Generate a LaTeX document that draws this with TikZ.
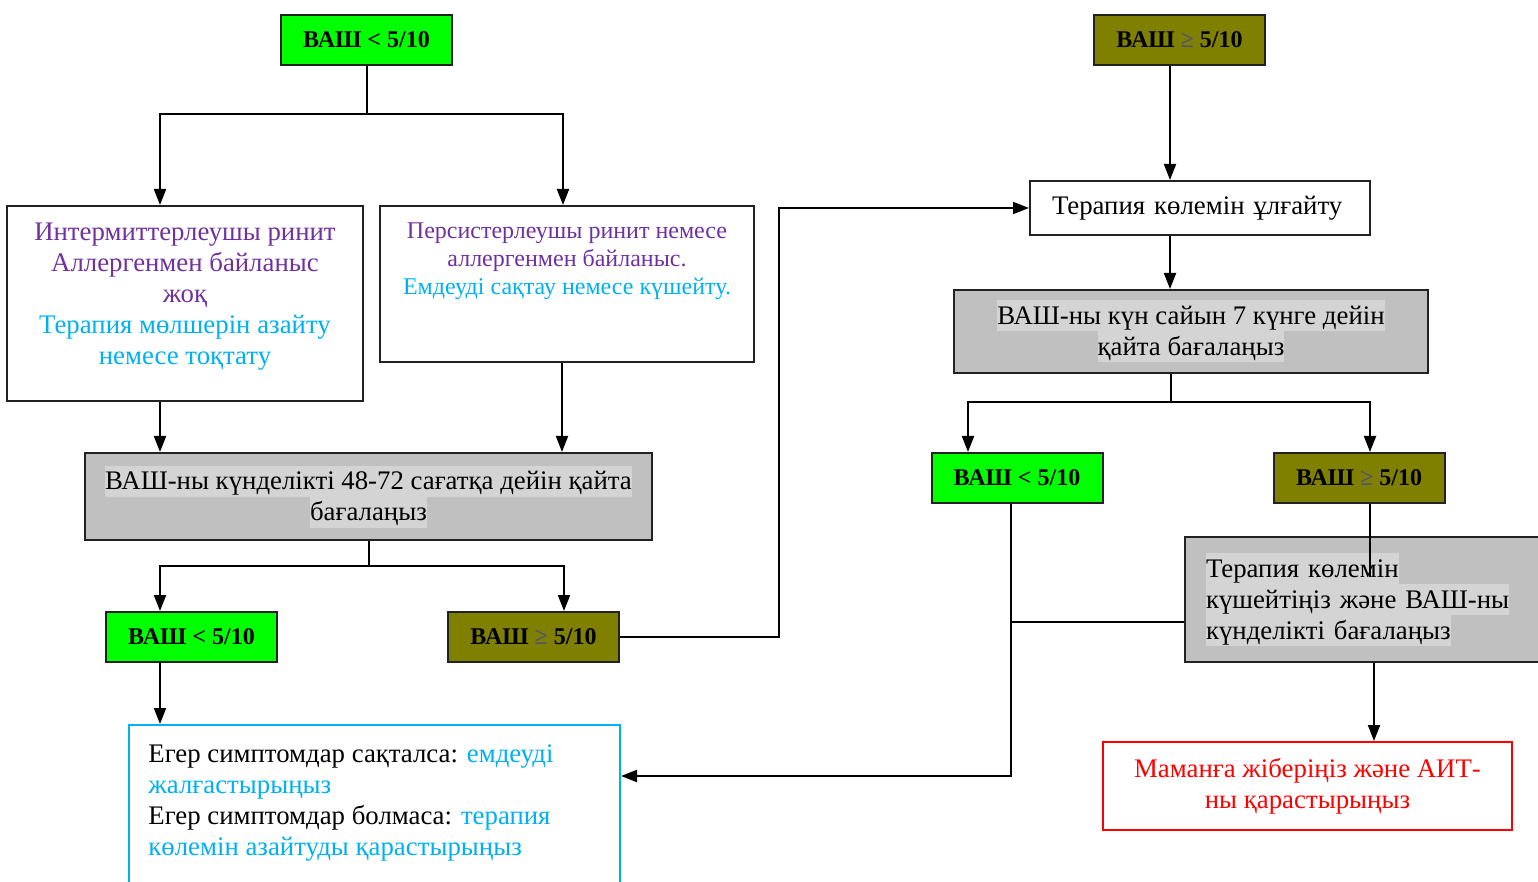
\documentclass[tikz,border=0pt]{standalone}
\usepackage{fontspec}
\setmainfont{Liberation Serif}
\usetikzlibrary{arrows.meta}

\definecolor{vasgreen}{HTML}{00FF00}
\definecolor{vasolive}{HTML}{808000}
\definecolor{boxgray}{HTML}{C0C0C0}
\definecolor{hlgray}{HTML}{D4D4D4}
\definecolor{txtpurple}{HTML}{7030A0}
\definecolor{txtcyan}{HTML}{00B0F0}
\definecolor{geqgray}{HTML}{55556A}
\definecolor{framedark}{HTML}{222222}

\newcommand{\hlline}[1]{{\setlength{\fboxsep}{0pt}\colorbox{hlgray}{\rule[-3.5pt]{0pt}{15.5pt}#1}}}
\newcommand{\vasless}{\textbf{ВАШ < 5/10}}
\newcommand{\vasgeq}{\textbf{ВАШ {\color{geqgray}≥} 5/10}}

\begin{document}
\begin{tikzpicture}[x=0.5pt, y=-0.5pt,
    boxframe/.style={draw=framedark, line width=1pt, inner sep=0pt},
    lessbox/.style={boxframe, fill=vasgreen, minimum width=85.5pt, minimum height=25pt, font=\fontsize{12pt}{14pt}\selectfont},
    geqbox/.style={lessbox, fill=vasolive},
    graybox/.style={boxframe, fill=boxgray, font=\fontsize{13.4pt}{15.5pt}\selectfont},
    txt/.style={inner sep=0pt, font=\fontsize{13.4pt}{15.5pt}\selectfont},
    conn/.style={line width=1pt},
    arr/.style={conn, -{Triangle[length=8pt,width=6pt]}}]
    \useasboundingbox (0,0) rectangle (1538,882);

    % Left branch: VAS < 5/10
    \node[lessbox] (lessA) at (366.5,40) {\vasless};
    \node[boxframe, minimum width=178pt, minimum height=97.5pt] (inter) at (185,303.5) {};
    \node[txt, anchor=north, align=center, text=txtpurple] (intertxt) at ([yshift=-9pt]inter.north)
        {Интермиттерлеушы ринит\\ Аллергенмен байланыс\\ жоқ\\
         \textcolor{txtcyan}{Терапия мөлшерін азайту}\\ \textcolor{txtcyan}{немесе тоқтату}};
    \node[boxframe, minimum width=187pt, minimum height=78pt] (pers) at (567,284) {};
    \node[txt, anchor=north, align=center, text=txtpurple, font=\fontsize{12pt}{14pt}\selectfont] (perstxt) at ([yshift=-8.5pt]pers.north)
        {Персистерлеушы ринит немесе\\ аллергенмен байланыс.\\ \textcolor{txtcyan}{Емдеуді сақтау немесе күшейту.}};

    % Daily re-check
    \node[graybox, minimum width=283.5pt, minimum height=43.5pt, align=center] (recheckA) at (368.5,496.5)
        {\hlline{ВАШ-ны күнделікті 48-72 сағатқа дейін қайта}\\ \hlline{бағалаңыз}};
    \node[lessbox] (lessB) at (191.5,637) {\vasless};
    \node[geqbox] (geqB) at (533.5,637) {\vasgeq};

    % Advice box
    \node[draw=txtcyan, line width=1pt, inner sep=0pt, minimum width=245.5pt, minimum height=84pt] (advice) at (374.5,809) {};
    \node[txt, anchor=north west, align=left] (advicetxt) at ([xshift=10pt,yshift=-10pt]advice.north west)
        {Егер симптомдар сақталса: \textcolor{txtcyan}{емдеуді}\\ \textcolor{txtcyan}{жалғастырыңыз}\\
         Егер симптомдар болмаса: \textcolor{txtcyan}{терапия}\\ \textcolor{txtcyan}{көлемін азайтуды қарастырыңыз}};

    % Right branch: VAS >= 5/10
    \node[geqbox] (geqA) at (1179.5,40) {\vasgeq};
    \node[boxframe, minimum width=170pt, minimum height=27pt, inner xsep=11pt, text width=148pt, align=left,
        font=\fontsize{13.4pt}{15.5pt}\selectfont] (raise) at (1200,208) {Терапия көлемін ұлғайту};
    \node[graybox, minimum width=237pt, minimum height=41.5pt, align=center] (recheckB) at (1191,331.5)
        {\hlline{ВАШ-ны күн сайын 7 күнге дейін}\\ \hlline{қайта бағалаңыз}};
    \node[lessbox] (lessC) at (1017,478) {\vasless};
    \node[geqbox] (geqC) at (1359,478) {\vasgeq};
    \node[graybox, minimum height=62.5pt, inner xsep=10.5pt, text width=159pt, align=left] (boost) at (1365,599.5)
        {\hlline{Терапия көлемін}\\ \hlline{күшейтіңіз және ВАШ-ны}\\ \hlline{күнделікті бағалаңыз}\par\vspace*{5pt}};
    \node[draw=red, line width=1pt, inner sep=0pt, minimum width=204.5pt, minimum height=44pt, align=center,
        text=red, font=\fontsize{13.4pt}{15.5pt}\selectfont] (refer) at (1307.5,786)
        {Маманға жіберіңіз және АИТ-\\ны қарастырыңыз};

    % Arrows, left
    \draw[arr] (lessA.south) |- (160,114) -- (inter.north -| 160,0);
    \draw[arr] (lessA.south) |- (563,114) -- (pers.north -| 563,0);
    \draw[arr] (inter.south -| 160,0) -- (recheckA.north -| 160,0);
    \draw[arr] (pers.south -| 562,0) -- (recheckA.north -| 562,0);
    \draw[arr] (recheckA.south) |- (160,566) -- (lessB.north -| 160,0);
    \draw[arr] (recheckA.south) |- (564,566) -- (geqB.north -| 564,0);
    \draw[arr] (lessB.south -| 160,0) -- (advice.north -| 160,0);
    \draw[arr] (geqB.east) -| (779,208) -- (raise.west);

    % Arrows, right
    \draw[arr] (geqA.south -| 1170,0) -- (raise.north -| 1170,0);
    \draw[arr] (raise.south -| 1170,0) -- (recheckB.north -| 1170,0);
    \draw[arr] (recheckB.south -| 1171,0) |- (968,402) -- (lessC.north -| 968,0);
    \draw[arr] (recheckB.south -| 1171,0) |- (1370,402) -- (geqC.north -| 1370,0);
    \coordinate (geqCend) at (1370,577);
    \draw[conn] (geqC.south -| 1370,0) -- (geqCend);
    \draw[arr] (lessC.south -| 1011,0) |- (advice.east |- 0,776);
    \draw[conn] (boost.west |- 0,622) -- (1011,622);
    \draw[arr] (boost.south -| 1374,0) -- (refer.north -| 1374,0);
\end{tikzpicture}
\end{document}
